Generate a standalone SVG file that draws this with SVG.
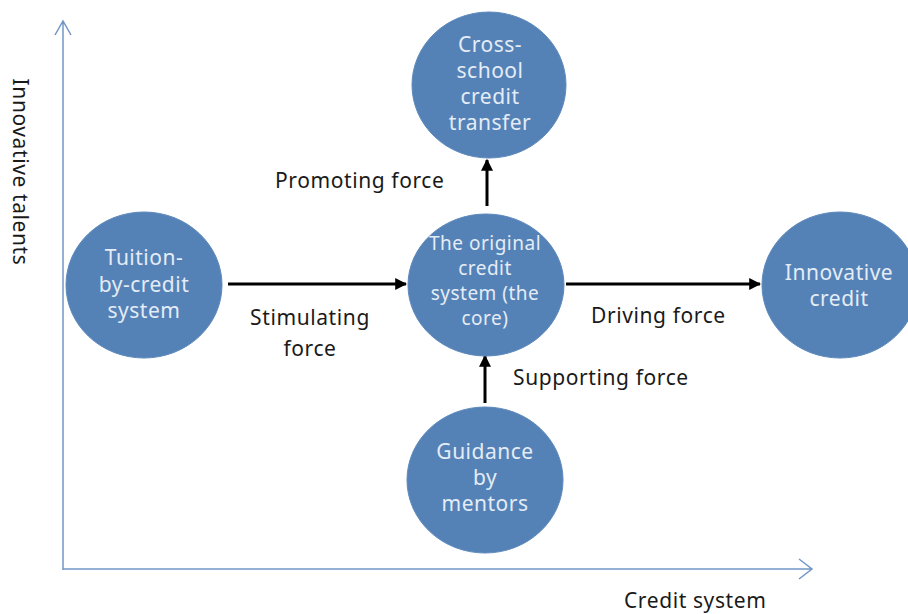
<svg xmlns="http://www.w3.org/2000/svg" width="908" height="614" viewBox="0 0 908 614">
<style>
.node{fill:#5582b6;stroke:#5d89bc;stroke-width:1}
.nt{font-family:"Noto Sans","Open Sans",sans-serif;font-size:21px;letter-spacing:0.5px;fill:#e4ecf6;text-anchor:middle}
.nts{font-size:19px}
.lbl{font-family:"Noto Sans","Open Sans",sans-serif;font-size:21px;letter-spacing:0.6px;fill:#1a1a1a}
.axis{stroke:#7196c6;stroke-width:1.5;fill:none}
.conn{stroke:#000;stroke-width:3;fill:none;marker-end:url(#ah)}
</style>
<defs>
<marker id="ah" viewBox="0 0 10 10" refX="9" refY="5" markerWidth="4" markerHeight="4" orient="auto" markerUnits="strokeWidth">
<path d="M0,0 L10,5 L0,10 z" fill="#000"/>
</marker>
</defs>
<rect width="908" height="614" fill="#fff"/>
<g id="axes">
<path class="axis" d="M63,570 V21 M55,35 L63,21 L71,35"/>
<path class="axis" d="M63,569 H812 M799,559 L812,569 L799,579"/>
<text class="lbl" transform="translate(13,172) rotate(90)" text-anchor="middle">Innovative talents</text>
<text class="lbl" x="624" y="608">Credit system</text>
</g>
<g id="connectors">
<line class="conn" x1="228" y1="284" x2="406" y2="284"/>
<line class="conn" x1="566" y1="284" x2="760" y2="284"/>
<line class="conn" x1="487" y1="206" x2="487" y2="160"/>
<line class="conn" x1="485" y1="403" x2="485" y2="356"/>
<text class="lbl" x="275" y="188">Promoting force</text>
<text class="lbl" x="310" y="325" text-anchor="middle">Stimulating</text>
<text class="lbl" x="310" y="356" text-anchor="middle">force</text>
<text class="lbl" x="591" y="323">Driving force</text>
<text class="lbl" x="513" y="385">Supporting force</text>
</g>
<g id="cross-school">
<ellipse class="node" cx="489" cy="85" rx="77" ry="73"/>
<text class="nt" x="490" y="52">Cross-</text>
<text class="nt" x="490" y="78">school</text>
<text class="nt" x="490" y="104">credit</text>
<text class="nt" x="490" y="130">transfer</text>
</g>
<g id="core">
<ellipse class="node" cx="486" cy="285" rx="78" ry="71"/>
<text class="nt nts" x="485" y="250">The original</text>
<text class="nt nts" x="485" y="275">credit</text>
<text class="nt nts" x="485" y="300">system (the</text>
<text class="nt nts" x="485" y="325">core)</text>
</g>
<g id="tuition">
<ellipse class="node" cx="144" cy="285" rx="78" ry="73"/>
<text class="nt" x="144" y="265">Tuition-</text>
<text class="nt" x="144" y="292">by-credit</text>
<text class="nt" x="144" y="318">system</text>
</g>
<g id="innovative-credit">
<ellipse class="node" cx="840" cy="285" rx="78" ry="73"/>
<text class="nt" x="839" y="280">Innovative</text>
<text class="nt" x="839" y="306">credit</text>
</g>
<g id="guidance">
<ellipse class="node" cx="485" cy="480" rx="78" ry="73"/>
<text class="nt" x="485" y="459">Guidance</text>
<text class="nt" x="485" y="485">by</text>
<text class="nt" x="485" y="511">mentors</text>
</g>
</svg>
